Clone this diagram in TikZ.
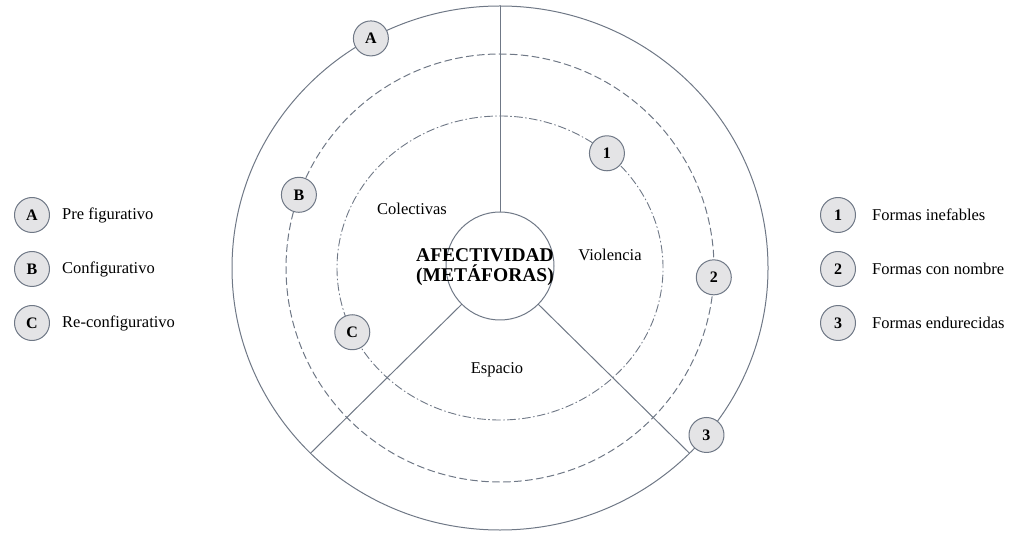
\documentclass[tikz,border=0pt]{standalone}
\usepackage{fontspec}
\setmainfont{Liberation Serif}
\usetikzlibrary{positioning}
\definecolor{ringgray}{HTML}{6F7886}
\definecolor{badgefill}{HTML}{E4E4E6}
\tikzset{
    lab/.style={
        font=\fontsize{16.5}{19}\selectfont, inner sep=3pt
    },
    badge/.style={
        circle, draw=ringgray, fill=badgefill, line width=1pt,
        minimum size=35pt, inner sep=0pt,
        font=\fontsize{16}{19}\selectfont\bfseries
    }
}

\begin{document}
\begin{tikzpicture}[x=1pt, y=1pt, line cap=round, line join=round]

\useasboundingbox (0,0) rectangle (1016,533);

\def\cx{500}
\def\cy{265}

% rings
\draw[ringgray, line width=1pt] (\cx,\cy) ellipse [x radius=268, y radius=262];
\draw[ringgray, line width=1pt, dash pattern=on 7pt off 4pt] (\cx,\cy) circle (214);
\draw[ringgray, line width=0.9pt, dash pattern=on 8pt off 3pt on 1pt off 3pt] (\cx,\cy) ellipse [x radius=163, y radius=152];

% core
\node[circle, draw=ringgray, fill=white, line width=1pt, minimum size=108pt, inner sep=0pt] (core) at (\cx,267) {};
\node[lab, align=center, font=\fontsize{19.5}{20.5}\selectfont\bfseries] (coretext) at (485,266) {AFECTIVIDAD\\(METÁFORAS)};

% spokes
\coordinate (sptop) at (\cx,527);
\coordinate (spleft) at ({\cx+268*cos(225)},{\cy+262*sin(225)});
\coordinate (spright) at ({\cx+268*cos(315)},{\cy+262*sin(315)});
\draw[ringgray, line width=1pt] (core.north) -- (sptop);
\draw[ringgray, line width=1pt] (core.225) -- (spleft);
\draw[ringgray, line width=1pt] (core.315) -- (spright);

% sector names
\node[lab] (colectivas) at (412,324) {Colectivas};
\node[lab] (violencia) at (610,278) {Violencia};
\node[lab] (espacio) at (497,163) {Espacio};

% badges on the rings
\node[badge] (bA) at ({\cx+268*cos(118.8)},{\cy+262*sin(118.8)}) {A};
\node[badge] (bB) at ({\cx+214*cos(160)},{\cy+214*sin(160)}) {B};
\node[badge] (bC) at ({\cx+163*cos(205)},{\cy+152*sin(205)}) {C};
\node[badge] (b1) at ({\cx+163*cos(49)},{\cy+152*sin(49)}) {1};
\node[badge] (b2) at ({\cx+214*cos(-2.5)},{\cy+214*sin(-2.5)}) {2};
\node[badge] (b3) at ({\cx+268*cos(-39.6)},{\cy+262*sin(-39.6)}) {3};

% legends
\foreach \k/\txt/\yy in {A/Pre figurativo/318, B/Configurativo/264, C/Re-configurativo/210} {
  \node[badge] (leg\k) at (32,\yy) {\k};
  \node[lab, anchor=west, right=9pt of leg\k] (legtxt\k) {\txt};
}
\foreach \k/\txt/\yy in {1/Formas inefables/318, 2/Formas con nombre/264, 3/Formas endurecidas/210} {
  \node[badge] (leg\k) at (838,\yy) {\k};
  \node[lab, anchor=west, right=13pt of leg\k] (legtxt\k) {\txt};
}

\end{tikzpicture}
\end{document}
